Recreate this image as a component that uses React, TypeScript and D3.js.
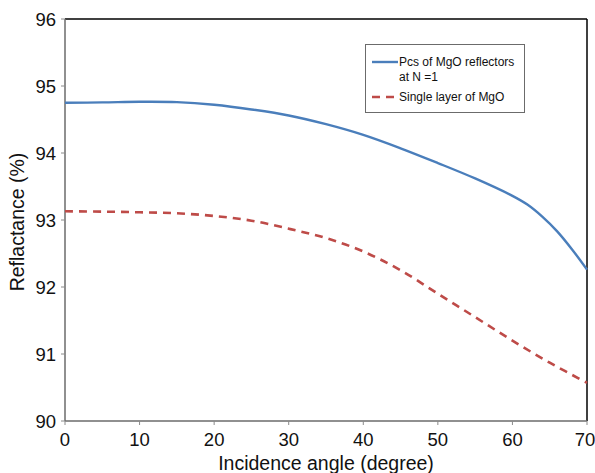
import React from "react";
import * as d3 from "d3";

const angles = [0, 5, 10, 15, 20, 25, 30, 35, 40, 45, 50, 55, 60, 62, 64, 66, 68, 70];
const pcsValues = [94.75, 94.755, 94.765, 94.76, 94.72, 94.65, 94.56, 94.43, 94.27, 94.07, 93.85, 93.62, 93.36, 93.23, 93.05, 92.83, 92.56, 92.26];
const redAngles = [0, 5, 10, 15, 20, 25, 30, 35, 40, 45, 50, 55, 60, 65, 70];
const singleValues = [93.13, 93.125, 93.115, 93.1, 93.06, 92.99, 92.87, 92.73, 92.53, 92.25, 91.9, 91.55, 91.2, 90.87, 90.57];
const xTicks = [0, 10, 20, 30, 40, 50, 60, 70];
const yTicks = [90, 91, 92, 93, 94, 95, 96];
const legendLabels = [["Pcs of MgO reflectors", "at N =1"], ["Single layer of MgO"]];

const W = 595, H = 473;
const L = 65, R = 587, T = 19, B = 421;
const font = "Arial, 'Liberation Sans', sans-serif";

export default function App() {
  const x = d3.scaleLinear().domain([0, 70]).range([L, R]);
  const y = d3.scaleLinear().domain([90, 96]).range([B, T]);
  const line = d3.line<[number, number]>().x(d => x(d[0])).y(d => y(d[1])).curve(d3.curveCatmullRom.alpha(0.5));
  const blue = line(angles.map((a, i) => [a, pcsValues[i]]) as [number, number][]) || "";
  const red = line(redAngles.map((a, i) => [a, singleValues[i]]) as [number, number][]) || "";
  const blueC = "#4a7ebb", redC = "#be4b48";
  return (
    <svg width={W} height={H} style={{ position: "absolute", left: 0, top: 0, background: "#fff" }} fontFamily={font}>
      <rect x={0} y={0} width={W} height={H} fill="#fff" />
      <line x1={L} x2={R} y1={T} y2={T} stroke="#000" strokeWidth={1.5} />
      <line x1={R} x2={R} y1={T} y2={B} stroke="#000" strokeWidth={1.5} />
      <line x1={L} x2={L} y1={T} y2={B} stroke="#6b6b6b" strokeWidth={1.5} />
      <line x1={L} x2={R} y1={B} y2={B} stroke="#6b6b6b" strokeWidth={1.5} />
      {yTicks.map(t => (
        <g key={"y" + t}>
          <line x1={L - 4} x2={L} y1={y(t)} y2={y(t)} stroke="#8a8a8a" />
          <text x={L - 9} y={y(t)} dy="0.36em" textAnchor="end" fontSize={18.5} fill="#111">{t}</text>
        </g>
      ))}
      {xTicks.map(t => (
        <g key={"x" + t}>
          <line x1={x(t)} x2={x(t)} y1={B} y2={B + 4} stroke="#8a8a8a" />
          <text x={t === 70 ? x(t) - 2 : x(t)} y={B + 25} textAnchor="middle" fontSize={18.5} fill="#111">{t}</text>
        </g>
      ))}
      <path d={red} fill="none" stroke={redC} strokeWidth={2.6} strokeDasharray="8,6" />
      <path d={blue} fill="none" stroke={blueC} strokeWidth={2.4} />
      <text x={(L + R) / 2} y={470} textAnchor="middle" fontSize={19.5} fill="#111">Incidence angle (degree)</text>
      <text transform={`translate(24,${(T + B) / 2 + 2}) rotate(-90)`} textAnchor="middle" fontSize={19.5} fill="#111">Reflactance (%)</text>
      <rect x={365.5} y={44.5} width={159} height={68} fill="#fff" stroke="#6b6b6b" strokeWidth={1} />
      <line x1={372} x2={398} y1={62} y2={62} stroke={blueC} strokeWidth={2.4} />
      <text x={399} y={66} fontSize={12} fill="#111">{legendLabels[0][0]}</text>
      <text x={399} y={81} fontSize={12} fill="#111">{legendLabels[0][1]}</text>
      <line x1={372} x2={398} y1={97} y2={97} stroke={redC} strokeWidth={2.6} strokeDasharray="8,6" />
      <text x={399} y={101} fontSize={12} fill="#111">{legendLabels[1][0]}</text>
    </svg>
  );
}
